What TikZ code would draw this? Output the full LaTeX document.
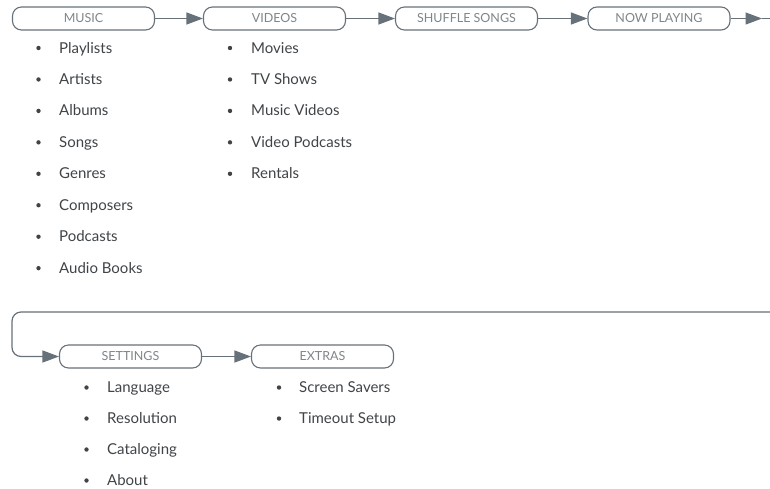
\documentclass[tikz,border=0pt]{standalone}
\usepackage{fontspec}
\setmainfont{Lato}
\usetikzlibrary{arrows.meta}
\definecolor{linec}{HTML}{66717A}
\definecolor{boxtext}{HTML}{7F8589}
\definecolor{listtext}{HTML}{404448}
\tikzset{
  menubox/.style={draw=linec, line width=1.1pt, rounded corners=9pt, minimum width=142pt, minimum height=23pt, inner sep=0pt, text=boxtext, font=\fontsize{12.5}{14}\selectfont},
  flow/.style={draw=linec, line width=1.2pt, -{Triangle[length=16.5pt,width=12pt]}},
  item/.style={anchor=base west, inner sep=0pt, text=listtext, font=\fontsize{15}{17}\selectfont},
  bul/.style={circle, fill=listtext, inner sep=0pt, minimum size=4.4pt}
}
\begin{document}
\begin{tikzpicture}[x=1pt,y=-1pt]
\useasboundingbox (0,0) rectangle (770,488);
% top row
\node[menubox] (music) at (83.5,18.5) {MUSIC};
\node[menubox] (videos) at (274.5,18.5) {VIDEOS};
\node[menubox] (shuffle) at (466.5,18.5) {SHUFFLE SONGS};
\node[menubox] (now) at (659,18.5) {NOW PLAYING};
\coordinate (tipend) at (762,18.5);
\coordinate (edge) at (770,18.5);
\draw[flow] (music) -- (videos);
\draw[flow] (videos) -- (shuffle);
\draw[flow] (shuffle) -- (now);
\draw[flow] (now) -- (tipend);
\draw[draw=linec, line width=1.2pt] (tipend) -- (edge);
% second row
\node[menubox] (settings) at (130.5,356.5) {SETTINGS};
\node[menubox] (extras) at (322.5,356.5) {EXTRAS};
\coordinate (wrapstart) at (770,312);
\draw[flow, rounded corners=9pt] (wrapstart) -- (12,312) -- (12,356.5) -- (settings.west);
\draw[flow] (settings) -- (extras);
% lists
\foreach \t [count=\i] in {Playlists,Artists,Albums,Songs,Genres,Composers,Podcasts,Audio Books}{
  \node[bul] (mb\i) at (38.5,{53+31.45*(\i-1)-5}) {};
  \node[item] (mi\i) at (59,{53+31.45*(\i-1)}) {\t};
}
\foreach \t [count=\i] in {Movies,TV Shows,Music Videos,Video Podcasts,Rentals}{
  \node[bul] (vb\i) at (230,{53+31.45*(\i-1)-5}) {};
  \node[item] (vi\i) at (251,{53+31.45*(\i-1)}) {\t};
}
\foreach \t [count=\i] in {Language,Resolution,Cataloging,About}{
  \node[bul] (sb\i) at (86.5,{392.5+31*(\i-1)-5}) {};
  \node[item] (si\i) at (107,{392.5+31*(\i-1)}) {\t};
}
\foreach \t [count=\i] in {Screen Savers,Timeout Setup}{
  \node[bul] (eb\i) at (279,{392.5+31*(\i-1)-5}) {};
  \node[item] (ei\i) at (299,{392.5+31*(\i-1)}) {\t};
}
\end{tikzpicture}
\end{document}
